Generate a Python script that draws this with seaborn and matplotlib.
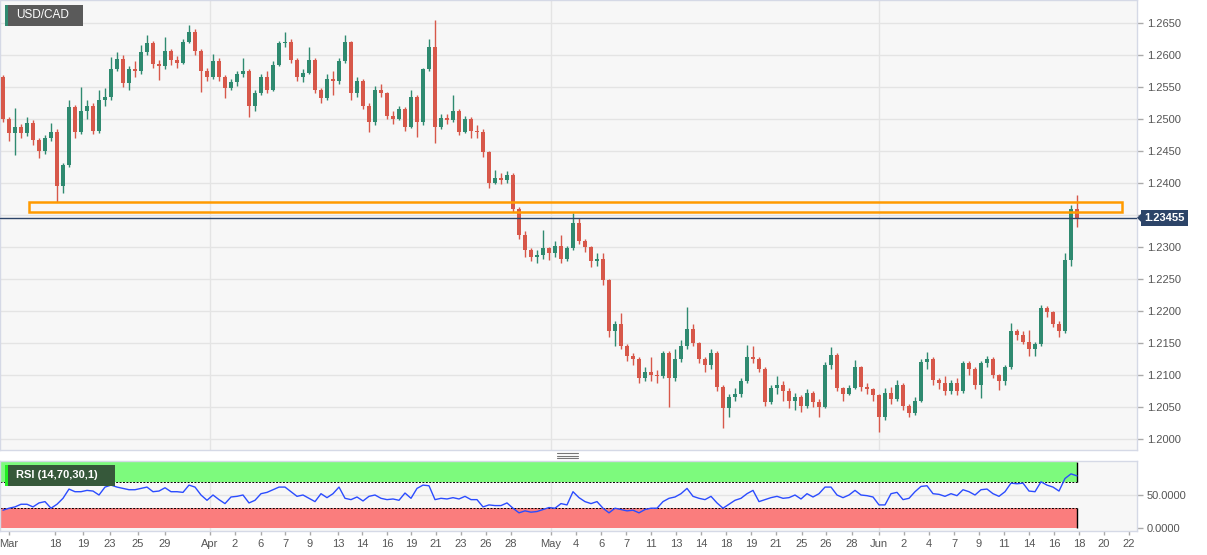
import matplotlib
matplotlib.use("Agg")
import matplotlib.pyplot as plt
import seaborn as sns
import numpy as np
import pandas as pd
from matplotlib.patches import Rectangle, Polygon
from matplotlib.lines import Line2D

# USD/CAD 4h-ish candles
first_open = 1.2565
closes = [
    1.2500, 1.2478, 1.2488, 1.2478, 1.2494, 1.2467, 1.2450, 1.2470, 1.2480, 1.2395,
    1.2428, 1.2519, 1.2480, 1.2512, 1.2520, 1.2482, 1.2530, 1.2535, 1.2578, 1.2594,
    1.2556, 1.2578, 1.2575, 1.2605, 1.2619, 1.2586, 1.2582, 1.2606, 1.2592, 1.2588,
    1.2620, 1.2636, 1.2606, 1.2575, 1.2566, 1.2590, 1.2565, 1.2548, 1.2558, 1.2570,
    1.2575, 1.2520, 1.2540, 1.2565, 1.2545, 1.2585, 1.2618, 1.2620, 1.2592, 1.2566,
    1.2572, 1.2592, 1.2545, 1.2532, 1.2562, 1.2560, 1.2590, 1.2620, 1.2540, 1.2560,
    1.2520, 1.2495, 1.2545, 1.2540, 1.2505, 1.2500, 1.2515, 1.2488, 1.2534, 1.2495,
    1.2578, 1.2612, 1.2488, 1.2502, 1.2498, 1.2512, 1.2480, 1.2500, 1.2482, 1.2480,
    1.2448, 1.2400, 1.2408, 1.2405, 1.2412, 1.2360, 1.2318, 1.2295, 1.2285, 1.2288,
    1.2298, 1.2290, 1.2302, 1.2282, 1.2298, 1.2338, 1.2310, 1.2300, 1.2278, 1.2282,
    1.2248, 1.2168, 1.2180, 1.2145, 1.2130, 1.2125, 1.2095, 1.2105, 1.2100, 1.2098,
    1.2135, 1.2095, 1.2125, 1.2145, 1.2172, 1.2150, 1.2125, 1.2115, 1.2135, 1.2082,
    1.2048, 1.2065, 1.2070, 1.2090, 1.2128, 1.2125, 1.2110, 1.2058, 1.2080, 1.2085,
    1.2075, 1.2060, 1.2065, 1.2052, 1.2072, 1.2058, 1.2050, 1.2115, 1.2132, 1.2080,
    1.2070, 1.2080, 1.2112, 1.2082, 1.2078, 1.2068, 1.2035, 1.2072, 1.2062, 1.2085,
    1.2052, 1.2040, 1.2060, 1.2120, 1.2125, 1.2092, 1.2088, 1.2075, 1.2088, 1.2075,
    1.2118, 1.2110, 1.2085, 1.2118, 1.2125, 1.2100, 1.2090, 1.2112, 1.2168, 1.2162,
    1.2152, 1.2140, 1.2148, 1.2205, 1.2198, 1.2180, 1.2168, 1.2280, 1.2360, 1.23455,
]
highs = [
    1.2568, 1.2503, 1.2517, 1.2492, 1.2503, 1.2498, 1.2470, 1.2475, 1.2494, 1.2484,
    1.2432, 1.2530, 1.2522, 1.2550, 1.2530, 1.2525, 1.2545, 1.2548, 1.2597, 1.2605,
    1.2600, 1.2582, 1.2590, 1.2615, 1.2631, 1.2622, 1.2592, 1.2628, 1.2610, 1.2598,
    1.2625, 1.2647, 1.2640, 1.2610, 1.2580, 1.2602, 1.2596, 1.2568, 1.2562, 1.2575,
    1.2595, 1.2578, 1.2545, 1.2570, 1.2575, 1.2590, 1.2622, 1.2636, 1.2625, 1.2595,
    1.2578, 1.2612, 1.2595, 1.2548, 1.2570, 1.2575, 1.2595, 1.2631, 1.2622, 1.2565,
    1.2562, 1.2525, 1.2552, 1.2555, 1.2542, 1.2512, 1.2520, 1.2518, 1.2545, 1.2538,
    1.2580, 1.2625, 1.2655, 1.2508, 1.2508, 1.2538, 1.2515, 1.2505, 1.2503, 1.2490,
    1.2485, 1.2450, 1.2420, 1.2415, 1.2418, 1.2415, 1.2362, 1.2325, 1.2298, 1.2295,
    1.2327, 1.2300, 1.2310, 1.2318, 1.2302, 1.2353, 1.2345, 1.2312, 1.2302, 1.2290,
    1.2290, 1.2250, 1.2185, 1.2197, 1.2148, 1.2135, 1.2128, 1.2112, 1.2128, 1.2108,
    1.2138, 1.2138, 1.2140, 1.2155, 1.2206, 1.2180, 1.2152, 1.2128, 1.2140, 1.2138,
    1.2085, 1.2070, 1.2080, 1.2095, 1.2147, 1.2145, 1.2128, 1.2112, 1.2085, 1.2098,
    1.2090, 1.2080, 1.2072, 1.2068, 1.2078, 1.2075, 1.2062, 1.2120, 1.2144, 1.2135,
    1.2082, 1.2085, 1.2123, 1.2114, 1.2088, 1.2080, 1.2070, 1.2080, 1.2082, 1.2092,
    1.2088, 1.2055, 1.2065, 1.2125, 1.2136, 1.2128, 1.2095, 1.2098, 1.2092, 1.2095,
    1.2122, 1.2122, 1.2112, 1.2122, 1.2130, 1.2128, 1.2102, 1.2115, 1.2181, 1.2172,
    1.2168, 1.2170, 1.2152, 1.2210, 1.2208, 1.2200, 1.2185, 1.2290, 1.2365, 1.2381,
]
lows = [
    1.2495, 1.2465, 1.2444, 1.2470, 1.2474, 1.2460, 1.2439, 1.2445, 1.2466, 1.2370,
    1.2385, 1.2425, 1.2470, 1.2476, 1.2500, 1.2476, 1.2478, 1.2520, 1.2530, 1.2575,
    1.2550, 1.2545, 1.2565, 1.2570, 1.2600, 1.2580, 1.2561, 1.2578, 1.2585, 1.2580,
    1.2586, 1.2618, 1.2600, 1.2542, 1.2560, 1.2562, 1.2560, 1.2533, 1.2545, 1.2552,
    1.2565, 1.2503, 1.2512, 1.2538, 1.2540, 1.2543, 1.2583, 1.2612, 1.2588, 1.2560,
    1.2558, 1.2570, 1.2540, 1.2525, 1.2530, 1.2538, 1.2555, 1.2588, 1.2530, 1.2535,
    1.2515, 1.2480, 1.2490, 1.2535, 1.2500, 1.2492, 1.2498, 1.2482, 1.2486, 1.2472,
    1.2490, 1.2575, 1.2462, 1.2485, 1.2492, 1.2495, 1.2475, 1.2478, 1.2470, 1.2470,
    1.2440, 1.2392, 1.2398, 1.2398, 1.2400, 1.2355, 1.2312, 1.2285, 1.2278, 1.2275,
    1.2282, 1.2280, 1.2285, 1.2275, 1.2278, 1.2295, 1.2305, 1.2292, 1.2268, 1.2270,
    1.2240, 1.2160, 1.2145, 1.2140, 1.2122, 1.2115, 1.2088, 1.2090, 1.2090, 1.2088,
    1.2095, 1.2050, 1.2090, 1.2120, 1.2140, 1.2145, 1.2118, 1.2105, 1.2110, 1.2075,
    1.2017, 1.2035, 1.2060, 1.2065, 1.2088, 1.2118, 1.2105, 1.2052, 1.2055, 1.2070,
    1.2060, 1.2048, 1.2045, 1.2042, 1.2048, 1.2050, 1.2035, 1.2048, 1.2110, 1.2075,
    1.2060, 1.2068, 1.2078, 1.2075, 1.2070, 1.2060, 1.2011, 1.2030, 1.2055, 1.2060,
    1.2045, 1.2035, 1.2038, 1.2058, 1.2110, 1.2085, 1.2078, 1.2068, 1.2070, 1.2068,
    1.2072, 1.2100, 1.2078, 1.2064, 1.2112, 1.2095, 1.2077, 1.2085, 1.2110, 1.2155,
    1.2148, 1.2130, 1.2130, 1.2145, 1.2190, 1.2175, 1.2159, 1.2165, 1.2270, 1.2332,
]
rsi = [
    27, 30, 32, 36, 36, 32, 38, 40, 30, 36,
    45, 59, 55, 55, 57, 56, 50, 62, 65, 62,
    60, 58, 58, 60, 62, 55, 56, 61, 55, 55,
    54, 65, 62, 50, 42, 50, 43, 37, 47, 48,
    50, 38, 42, 52, 54, 58, 62, 62, 55, 48,
    50, 45, 40, 52, 46, 52, 62, 45, 43, 47,
    41, 48, 50, 45, 43, 44, 42, 53, 45, 60,
    65, 64, 43, 45, 44, 46, 44, 48, 43, 43,
    32, 35, 34, 34, 38, 30, 23, 26, 24, 25,
    28, 31, 30, 37, 35, 55, 46, 40, 37, 40,
    30, 23, 30, 28, 26, 27, 23, 28, 30, 30,
    40, 45, 47, 52, 60, 48, 45, 43, 48, 38,
    30, 36, 42, 45, 52, 57, 40, 43, 46, 48,
    45, 46, 50, 44, 52, 47, 52, 62, 62, 50,
    46, 50, 57, 50, 49, 47, 35, 35, 52, 54,
    43, 45, 55, 63, 64, 52, 51, 48, 52, 49,
    58, 55, 50, 58, 59, 52, 48, 55, 68, 67,
    68, 56, 55, 70, 65, 62, 56, 75, 82, 79,
]

tick_labels = ['Mar', '18', '19', '23', '25', '29', 'Apr', '2', '6', '7', '9', '13', '14',
               '16', '19', '21', '23', '26', '28', 'May', '4', '6', '7', '11', '13', '14',
               '18', '19', '21', '25', '26', '28', 'Jun', '2', '4', '7', '9', '11', '14',
               '16', '18', '20', '22']
tick_pos = [1.0, 8.67, 13.33, 17.83, 22.5, 27.0, 34.5, 38.67, 43.0, 47.0, 51.17, 55.83,
            59.83, 64.0, 68.0, 72.17, 76.33, 80.5, 84.67, 91.33, 95.5, 99.67, 103.83,
            108.0, 112.17, 116.33, 120.5, 124.67, 128.83, 133.17, 137.17, 141.5, 146.0,
            150.17, 154.33, 158.5, 162.67, 166.83, 171.0, 175.17, 179.33, 183.5, 187.67]
month_pos = [34.5, 91.33, 146.0]
price_levels = [1.2000, 1.2050, 1.2100, 1.2150, 1.2200, 1.2250, 1.2300, 1.2350,
                1.2400, 1.2450, 1.2500, 1.2550, 1.2600, 1.2650]

zone_low, zone_high = 1.23547, 1.23703
zone_x0, zone_x1 = 4.33, 186.5
last_price = 1.23455

GREEN = '#2f8a70'
RED = '#d7584a'
BG = '#f7f7f7'
GRID = '#e4e4e4'
SPINE = '#d5d9e6'
NAVY = '#2c4468'

sns.set_style('white')
plt.rcParams['font.family'] = ['Liberation Sans', 'DejaVu Sans']

df = pd.DataFrame({'close': closes, 'high': highs, 'low': lows, 'rsi': rsi})
df['open'] = [first_open] + closes[:-1]
df['idx'] = np.arange(len(df))
up = df['close'] >= df['open']
cols = np.where(up, GREEN, RED)

W, H = 1207, 555
fig = plt.figure(figsize=(W / 100, H / 100), dpi=100)
ax = fig.add_axes([0, 105 / H, 1137 / W, 450 / H])
ax2 = fig.add_axes([0, 24 / H, 1137 / W, 70 / H])

x_lo, x_hi = -0.5, 189.0
y_lo, y_hi = 1.19828, 1.26859

# --- price panel
ax.set_facecolor(BG)
ax.set_xlim(x_lo, x_hi)
ax.set_ylim(y_lo, y_hi)
ax.set_yticks(price_levels)
# the last-price tag sits on top of the 1.2350 label, so that one stays blank
ax.set_yticklabels(['' if abs(v - last_price) < 0.0025 else f'{v:.4f}' for v in price_levels])
ax.yaxis.tick_right()
ax.tick_params(axis='y', length=4, width=1, color='#aaaaaa', labelsize=8,
               labelcolor='#555555', pad=3)
ax.set_xticks([])
ax.grid(axis='y', color=GRID, lw=1)
for m in month_pos:
    ax.axvline(m, color=GRID, lw=1, zorder=0)
ax.set_axisbelow(True)

ax.vlines(df['idx'], df['low'], df['high'], colors=cols, lw=1, zorder=2)
body_bot = np.minimum(df['open'], df['close'])
body_h = np.maximum((df['close'] - df['open']).abs(), 0.00008)
ax.bar(df['idx'], body_h, bottom=body_bot, width=0.72, color=cols, linewidth=0, zorder=3)

ax.axhline(last_price, color=NAVY, lw=1, zorder=4)
ax.add_patch(Rectangle((zone_x0, zone_low), zone_x1 - zone_x0, zone_high - zone_low,
                       fill=False, ec='#ff9a00', lw=1.8, zorder=5))

# --- RSI panel
ax2.set_facecolor(BG)
ax2.set_xlim(x_lo, x_hi)
ax2.set_ylim(-4.5, 101.5)
last_i = df['idx'].iloc[-1]
ax2.fill_between([x_lo, last_i], 70, 100, color='#7dfa7d', lw=0, zorder=1)
ax2.fill_between([x_lo, last_i], 0, 30, color='#fa7d7d', lw=0, zorder=1)
ax2.hlines([30, 70], x_lo, last_i, colors='black', linestyles=(0, (2, 1.5)), lw=0.7, zorder=2)
ax2.vlines([last_i, last_i], [70, 0], [100, 30], colors='black', lw=1, zorder=2)
ax2.axhline(50, color=GRID, lw=1, zorder=0)
for m in month_pos:
    ax2.axvline(m, color=GRID, lw=1, zorder=0)
sns.lineplot(data=df, x='idx', y='rsi', ax=ax2, color='#2b4cff', lw=1, zorder=3)
ax2.set_xlabel('')
ax2.set_ylabel('')
ax2.set_yticks([0, 50])
ax2.set_yticklabels(['0.0000', '50.0000'])
ax2.yaxis.tick_right()
ax2.tick_params(axis='y', length=4, width=1, color='#aaaaaa', labelsize=8,
                labelcolor='#555555', pad=3)
ax2.set_xticks(tick_pos)
ax2.set_xticklabels(tick_labels)
ax2.tick_params(axis='x', length=3, width=1, color='#aaaaaa', labelsize=8,
                labelcolor='#555555', pad=3, bottom=True)

for a in (ax, ax2):
    for s in a.spines.values():
        s.set_color(SPINE)
        s.set_linewidth(1)


def fx(px):
    return px / W


def fy(py):
    return 1 - py / H


# symbol label
fig.add_artist(Rectangle((fx(5), fy(26)), 78 / W, 21 / H, transform=fig.transFigure,
                         fc='#5a5a5a', ec='none'))
fig.add_artist(Rectangle((fx(5), fy(26)), 2.5 / W, 21 / H, transform=fig.transFigure,
                         fc=GREEN, ec='none'))
fig.text(fx(16), fy(15.5), 'USD/CAD', color='white', fontsize=8.5, va='center')

# RSI label
fig.add_artist(Rectangle((fx(5), fy(486)), 110 / W, 21 / H, transform=fig.transFigure,
                         fc='#36583a', ec='none'))
fig.add_artist(Rectangle((fx(5), fy(486)), 2.5 / W, 21 / H, transform=fig.transFigure,
                         fc='#22ee22', ec='none'))
fig.text(fx(16), fy(475.5), 'RSI (14,70,30,1)', color='white', fontsize=8,
         fontweight='bold', va='center')

# last price tag
tag_y = (y_hi - last_price) / (y_hi - y_lo) * 450
fig.add_artist(Polygon([(fx(1137), fy(tag_y)), (fx(1142), fy(tag_y - 5)),
                        (fx(1142), fy(tag_y + 5))], closed=True,
                       transform=fig.transFigure, fc=NAVY, ec='none'))
fig.text(fx(1144), fy(tag_y), f'{last_price:.5f}', color='white', fontsize=8,
         fontweight='bold', va='center', ha='left',
         bbox=dict(boxstyle='square,pad=0.3', fc=NAVY, ec='none'))

# pane splitter grip
for gy in (453, 455.5, 458):
    fig.add_artist(Line2D([fx(557), fx(578)], [fy(gy), fy(gy)], transform=fig.transFigure,
                          color='#777777', lw=0.8))

fig.savefig('out.png', dpi=100)
